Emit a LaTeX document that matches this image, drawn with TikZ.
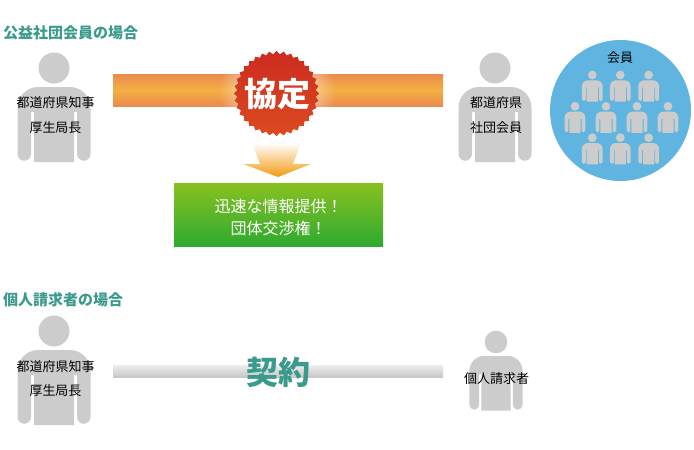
\documentclass[tikz,border=0pt]{standalone}
\usepackage{fontspec}
\setmainfont{Noto Sans CJK JP}
\usetikzlibrary{shapes.geometric,fadings}
\definecolor{tealtext}{HTML}{3A9A8C}
\definecolor{persongray}{HTML}{CCCCCC}
\definecolor{circleblue}{HTML}{5FB4E0}
\definecolor{barorange}{HTML}{EB8A4E}
\definecolor{baryellow}{HTML}{F3B043}
\definecolor{starred}{HTML}{CC2C20}
\definecolor{starorange}{HTML}{DC4A20}
\definecolor{arroworange}{HTML}{F29A10}
\definecolor{boxlime}{HTML}{88C020}
\definecolor{boxgreen}{HTML}{2DAA30}
\tikzfading[name=starglow,inner color=transparent!0,outer color=transparent!100]
\tikzset{
	heading/.style={text=tealtext,font=\fontsize{15}{15}\selectfont\bfseries,anchor=west,inner sep=0pt},
	personlabel/.style={font=\fontsize{13}{13}\selectfont,text=black,inner sep=0pt},
	person/.pic={
		\fill[persongray] (0,0) circle (15.5);
		\fill[persongray] (-36.5,40) arc[start angle=180,end angle=270,x radius=20.5,y radius=21] -- (16,19)
			arc[start angle=270,end angle=360,x radius=20.5,y radius=21] -- (36.5,86)
			arc[start angle=0,end angle=180,radius=6.75] -- (23,44) -- (20,44) -- (20,94) -- (-20,94) -- (-20,44) -- (-23,44) -- (-23,86)
			arc[start angle=0,end angle=180,radius=6.75] -- cycle;
	}
}
\begin{document}
\begin{tikzpicture}[x=1pt,y=-1pt]
	\useasboundingbox (0,0) rectangle (694,450);
	\node[heading] (kaiin) at (3,33) {公益社団会員の場合};
	\node[heading] (kojin) at (3,300) {個人請求者の場合};
	% upper row
	\pic at (54,68) {person};
	\pic at (495,68) {person};
	\node[personlabel] (chiji) at (55.5,102.5) {都道府県知事};
	\node[personlabel] (kyokucho) at (55.5,127.5) {厚生局長};
	\node[personlabel] (fuken) at (496,102.5) {都道府県};
	\node[personlabel] (dantai) at (496,127.5) {社団会員};
	\shade[top color=barorange,bottom color=barorange,middle color=baryellow] (113,74) rectangle (443,106);
	\fill[white,path fading=starglow] (277,92) circle (58);
	\node[star,star points=36,star point ratio=1.08,minimum size=85,inner sep=0pt,top color=starred,bottom color=starorange] (kyotei) at (276.5,93.5) {};
	\node[text=white,font=\fontsize{33}{33}\selectfont\bfseries,inner sep=0pt] (kyoteitext) at (277,94.5) {協定};
	\shade[top color=white,bottom color=arroworange] (252,143) -- (301,143) -- (293,164) -- (311,164) -- (278,177) -- (243,164) -- (260,164) -- cycle;
	\node[top color=boxlime,bottom color=boxgreen,minimum width=209,minimum height=63.5,inner sep=0pt] (teikyo) at (278.5,215) {};
	\node[align=center,text=white,inner sep=0pt,font=\fontsize{16}{22}\selectfont] (teikyotext) at (278.5,217.5) {迅速な情報提供！\\団体交渉権！};
	% members
	\fill[circleblue] (620.5,110.5) circle (70.5);
	\node[personlabel] (kaiinlabel) at (620,57.5) {会員};
	\foreach \x in {592.3,620.3,648.7} {
		\pic[scale=0.283] at (\x,75) {person};
		\pic[scale=0.283] at (\x,137.7) {person};
	}
	\foreach \x in {575,606,637,668}
		\pic[scale=0.283] at (\x,106.3) {person};
	% lower row
	\pic at (54,331) {person};
	\pic[scale=0.73] at (496,342) {person};
	\node[personlabel] (chiji2) at (55.5,366.5) {都道府県知事};
	\node[personlabel] (kyokucho2) at (55.5,390.5) {厚生局長};
	\node[personlabel] (seikyu) at (496.5,378.5) {個人請求者};
	\shade[top color=black!7,bottom color=black!22] (113,365) rectangle (443,377);
	\node[text=tealtext,font=\fontsize{32}{32}\selectfont\bfseries,inner sep=0pt] (keiyaku) at (278,372) {契約};
\end{tikzpicture}
\end{document}
